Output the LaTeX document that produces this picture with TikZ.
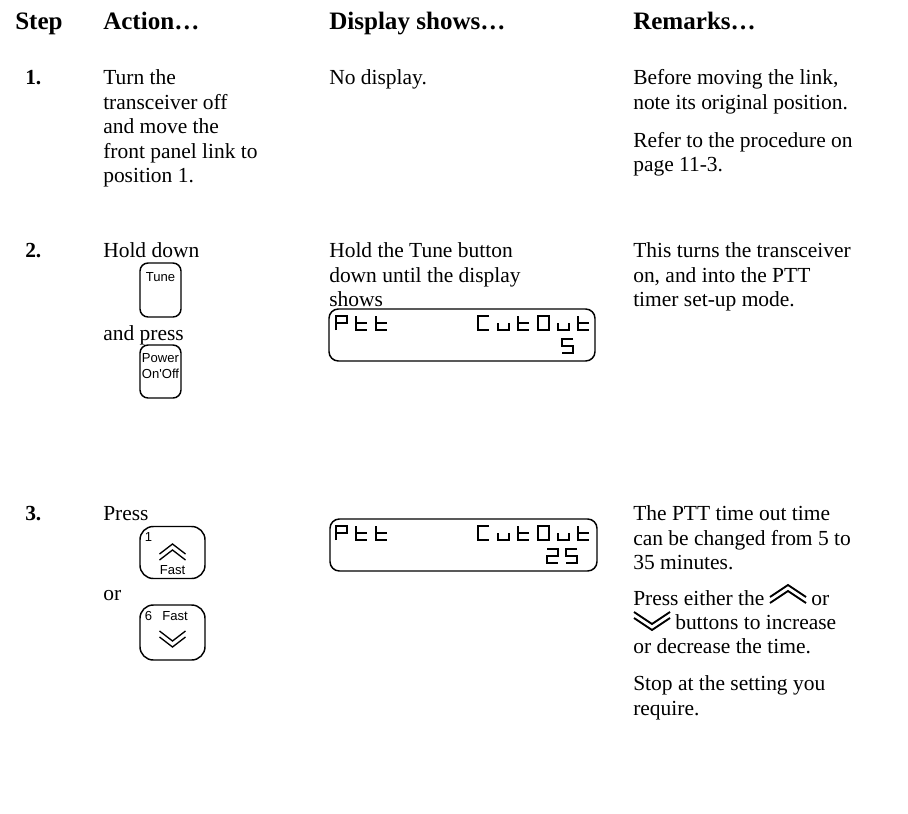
\documentclass[tikz,border=0pt]{standalone}
\usepackage{fontspec}
\setmainfont{Liberation Serif}
\newfontfamily\keyfont{Liberation Sans}
\usepackage{tikz}
\usetikzlibrary{positioning}

\tikzset{
  body/.style={font=\fontsize{16.1pt}{18.45pt}\selectfont, inner sep=0pt, anchor=north west, yshift=11.8pt, align=left, execute at begin node={\rule{0pt}{13pt}}},
  para/.style={body, yshift=-1.6pt},
  head/.style={font=\fontsize{18.8pt}{22pt}\selectfont\bfseries, inner sep=0pt, anchor=base west},
  stepno/.style={font=\fontsize{16.1pt}{18.45pt}\selectfont\bfseries, inner sep=0pt, anchor=base west},
  keybox/.style={draw, line width=1.1pt, rounded corners=6pt, inner sep=0pt},
  keytext/.style={font=\keyfont\fontsize{9.8pt}{11pt}\selectfont, inner sep=0pt},
  lcdbox/.style={draw, line width=1.1pt, rounded corners=7pt, inner sep=0pt},
  seg/.style={line width=1pt},
  chev/.style={line width=1pt},
  bigchev/.style={line width=1.4pt},
  % seven segment glyphs, origin at top left
  lcdP/.pic={\draw[seg] (0,14) -- (0,0) -- (11,0) -- (11,7) -- (0,7);},
  lcdt/.pic={\draw[seg] (0,0) -- (0,14) -- (11,14) (0,7) -- (11,7);},
  lcdC/.pic={\draw[seg] (11,0) -- (0,0) -- (0,14) -- (11,14);},
  lcdu/.pic={\draw[seg] (0,7) -- (0,14) -- (11,14) -- (11,7);},
  lcdO/.pic={\draw[seg] (0,0) rectangle (11,14);},
  lcd5/.pic={\draw[seg] (11,0) -- (0,0) -- (0,7) -- (11,7) -- (11,14) -- (0,14);},
  lcd2/.pic={\draw[seg] (0,0) -- (11,0) -- (11,7) -- (0,7) -- (0,14) -- (11,14);},
  % double chevrons, origin at centre
  upchev/.pic={\draw[chev] (-13,2) -- (0,-8) -- (13,2) (-13,8) -- (0,-2) -- (13,8);},
  downchev/.pic={\draw[chev] (-13,-8) -- (0,2) -- (13,-8) (-13,-2) -- (0,8) -- (13,-2);},
  bigup/.pic={\draw[bigchev] (-18,3) -- (0,-9) -- (18,3) (-18,9) -- (0,-3) -- (18,9);},
  bigdown/.pic={\draw[bigchev] (-18,-9) -- (0,3) -- (18,-9) (-18,-3) -- (0,9) -- (18,-3);},
}

\begin{document}
\begin{tikzpicture}[x=0.75pt,y=-0.75pt]
\useasboundingbox (0,0) rectangle (908,814);

% headings
\node[head] (hstep) at (15,29) {Step};
\node[head] (haction) at (103,29) {Action…};
\node[head] (hdisplay) at (329,29) {Display shows…};
\node[head] (hremarks) at (633,29) {Remarks…};

% step 1
\node[stepno] (num1) at (25,84.5) {1.};
\node[para] (act1) at (103,83) {Turn the\\transceiver off\\and move the\\front panel link to\\position 1.};
\node[body] (disp1) at (329,83) {No display.};
\node[para] (rem1) at (633,83) {Before moving the link,\\note its original position.\\[10pt]Refer to the procedure on\\page 11-3.};

% step 2
\node[stepno] (num2) at (25,257.5) {2.};
\node[body] (act2a) at (103,256) {Hold down};
\node[keybox, minimum width=30.75pt, minimum height=40.5pt] (tune) at (160.5,290) {};
\node[keytext, below=7.5pt of tune.north] (tunelbl) {Tune};
\node[body] (act2b) at (103,339) {and press};
\node[keybox, minimum width=30.75pt, minimum height=39.75pt] (power) at (160.5,371.5) {};
\node[keytext, below=7pt of power.north] (powerlbl) {Power};
\node[keytext, below=4pt of powerlbl] (onofflbl) {On'Off};
\node[para] (disp2) at (329,256) {Hold the Tune button\\down until the display\\shows};
\node[lcdbox, minimum width=199.5pt, minimum height=39pt] (lcdtwo) at (462,335) {};
\foreach \g [count=\i from 0] in {P,t,t}
  \pic at (336+20*\i,316) {lcd\g};
\foreach \g [count=\i from 0] in {C,u,t,O,u,t}
  \pic at (478+20*\i,316) {lcd\g};
\pic at (562,339) {lcd5};
\node[para] (rem2) at (633,256) {This turns the transceiver\\on, and into the PTT\\timer set-up mode.};

% step 3
\node[stepno] (num3) at (25,520.5) {3.};
\node[body] (act3a) at (103,519) {Press};
\node[keybox, rounded corners=10pt, minimum width=48.75pt, minimum height=39pt] (upkey) at (172.5,552.5) {};
\node[keytext, anchor=north west] (onelbl) at ([shift={(4pt,-5pt)}]upkey.north west) {1};
\pic at (172.5,552) {upchev};
\node[keytext, above=3pt of upkey.south] (fastup) {Fast};
\node[body] (act3b) at (103,599) {or};
\node[keybox, rounded corners=10pt, minimum width=48.75pt, minimum height=41.25pt] (downkey) at (172.5,632.5) {};
\node[keytext, anchor=north west] (sixlbl) at ([shift={(4pt,-5.5pt)}]downkey.north west) {6};
\node[keytext, anchor=north] (fastdown) at ([shift={(2pt,-5.5pt)}]downkey.north) {Fast};
\pic at (172.5,639) {downchev};
\node[lcdbox, minimum width=200.25pt, minimum height=39pt] (lcdthree) at (463.5,545) {};
\foreach \g [count=\i from 0] in {P,t,t}
  \pic at (336+20*\i,526) {lcd\g};
\foreach \g [count=\i from 0] in {C,u,t,O,u,t}
  \pic at (478+20*\i,526) {lcd\g};
\pic at (547,549) {lcd2};
\pic at (566,549) {lcd5};
\node[para] (rem3a) at (633,519) {The PTT time out time\\can be changed from 5 to\\35 minutes.};
\node[body] (rem3b) at (633,604) {Press either the};
\pic at (788,594) {bigup};
\node[body] (rem3or) at (811,604) {or};
\pic at (652,621) {bigdown};
\node[body] (rem3c) at (675,628) {buttons to increase};
\node[body] (rem3d) at (633,652) {or decrease the time.};
\node[para] (rem3e) at (633,689) {Stop at the setting you\\require.};
\end{tikzpicture}
\end{document}
